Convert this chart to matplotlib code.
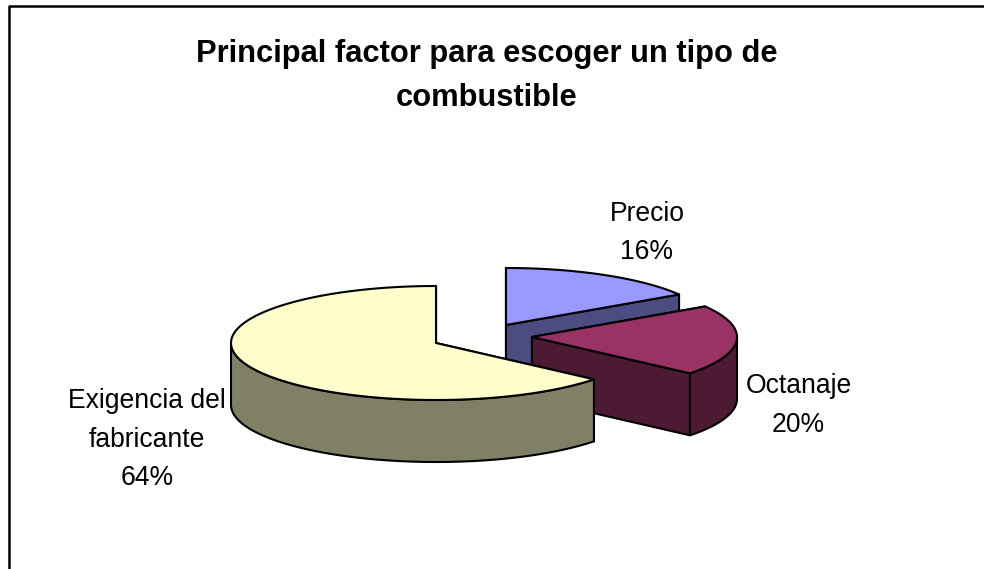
import numpy as np
import matplotlib
matplotlib.use("Agg")
import matplotlib.pyplot as plt
from matplotlib.patches import Polygon

title = "Principal factor para escoger un tipo de\ncombustible"
categories = ["Precio", "Octanaje", "Exigencia del\nfabricante"]
values = [16, 20, 64]
top_colors = ["#9999FF", "#993366", "#FFFFCC"]
side_colors = ["#4C4C80", "#4D1A33", "#808066"]
centers = [(506, 325), (532, 337), (436, 343)]
label_pos = [(647, 233), (798.5, 405.5), (147, 439.5)]

RX, RY, DEPTH = 205, 57, 62

plt.rcParams["font.family"] = ["Liberation Sans", "DejaVu Sans"]
fig = plt.figure(figsize=(9.84, 5.69), dpi=100)
ax = fig.add_axes([0, 0, 1, 1])
ax.set_xlim(0, 984)
ax.set_ylim(569, 0)
ax.axis("off")

# outer frame (bottom runs off the picture)
ax.plot([9, 9, 984], [569, 5.5, 5.5], color="black", lw=1.8, clip_on=False)


def rim(cx, cy, a0, a1, n=120):
    t = np.radians(np.linspace(a0, a1, n))
    return np.column_stack([cx + RX * np.sin(t), cy - RY * np.cos(t)])


def draw_slice(c, a0, a1, top, side, z):
    cx, cy = c
    kw = dict(edgecolor="black", lw=1.5, joinstyle="round")
    arc = rim(cx, cy, a0, a1)
    down = np.array([0, DEPTH])
    apex = np.array([[cx, cy]])
    # cut faces
    end = arc[-1]
    face1 = np.vstack([apex, [end], [end + down], apex + down])
    start = arc[0]
    face2 = np.vstack([apex, [start], [start + down], apex + down])
    ax.add_patch(Polygon(face2, fc=side, zorder=z, **kw))
    ax.add_patch(Polygon(face1, fc=side, zorder=z, **kw))
    # outer wall: only the part facing the viewer (90..270 deg clockwise from top)
    lo, hi = max(a0, 90), min(a1, 270)
    if hi > lo:
        w = rim(cx, cy, lo, hi)
        ax.add_patch(Polygon(np.vstack([w, (w + down)[::-1]]), fc=side, zorder=z + 0.1, **kw))
    ax.add_patch(Polygon(np.vstack([apex, arc]), fc=top, zorder=z + 0.2, **kw))


total = sum(values)
angle = 0.0
order_z = [1, 2, 3]
for i, v in enumerate(values):
    sweep = 360 * v / total
    draw_slice(centers[i], angle, angle + sweep, top_colors[i], side_colors[i], order_z[i])
    angle += sweep

ax.text(487, 76, title, ha="center", va="center", fontsize=22.2, fontweight="bold",
        linespacing=1.64, color="black")
for name, v, (x, y) in zip(categories, values, label_pos):
    ax.text(x, y, f"{name}\n{v}%", ha="center", va="center", fontsize=19.1,
            linespacing=1.63, color="black", zorder=10)

fig.savefig("out.png", dpi=100)
